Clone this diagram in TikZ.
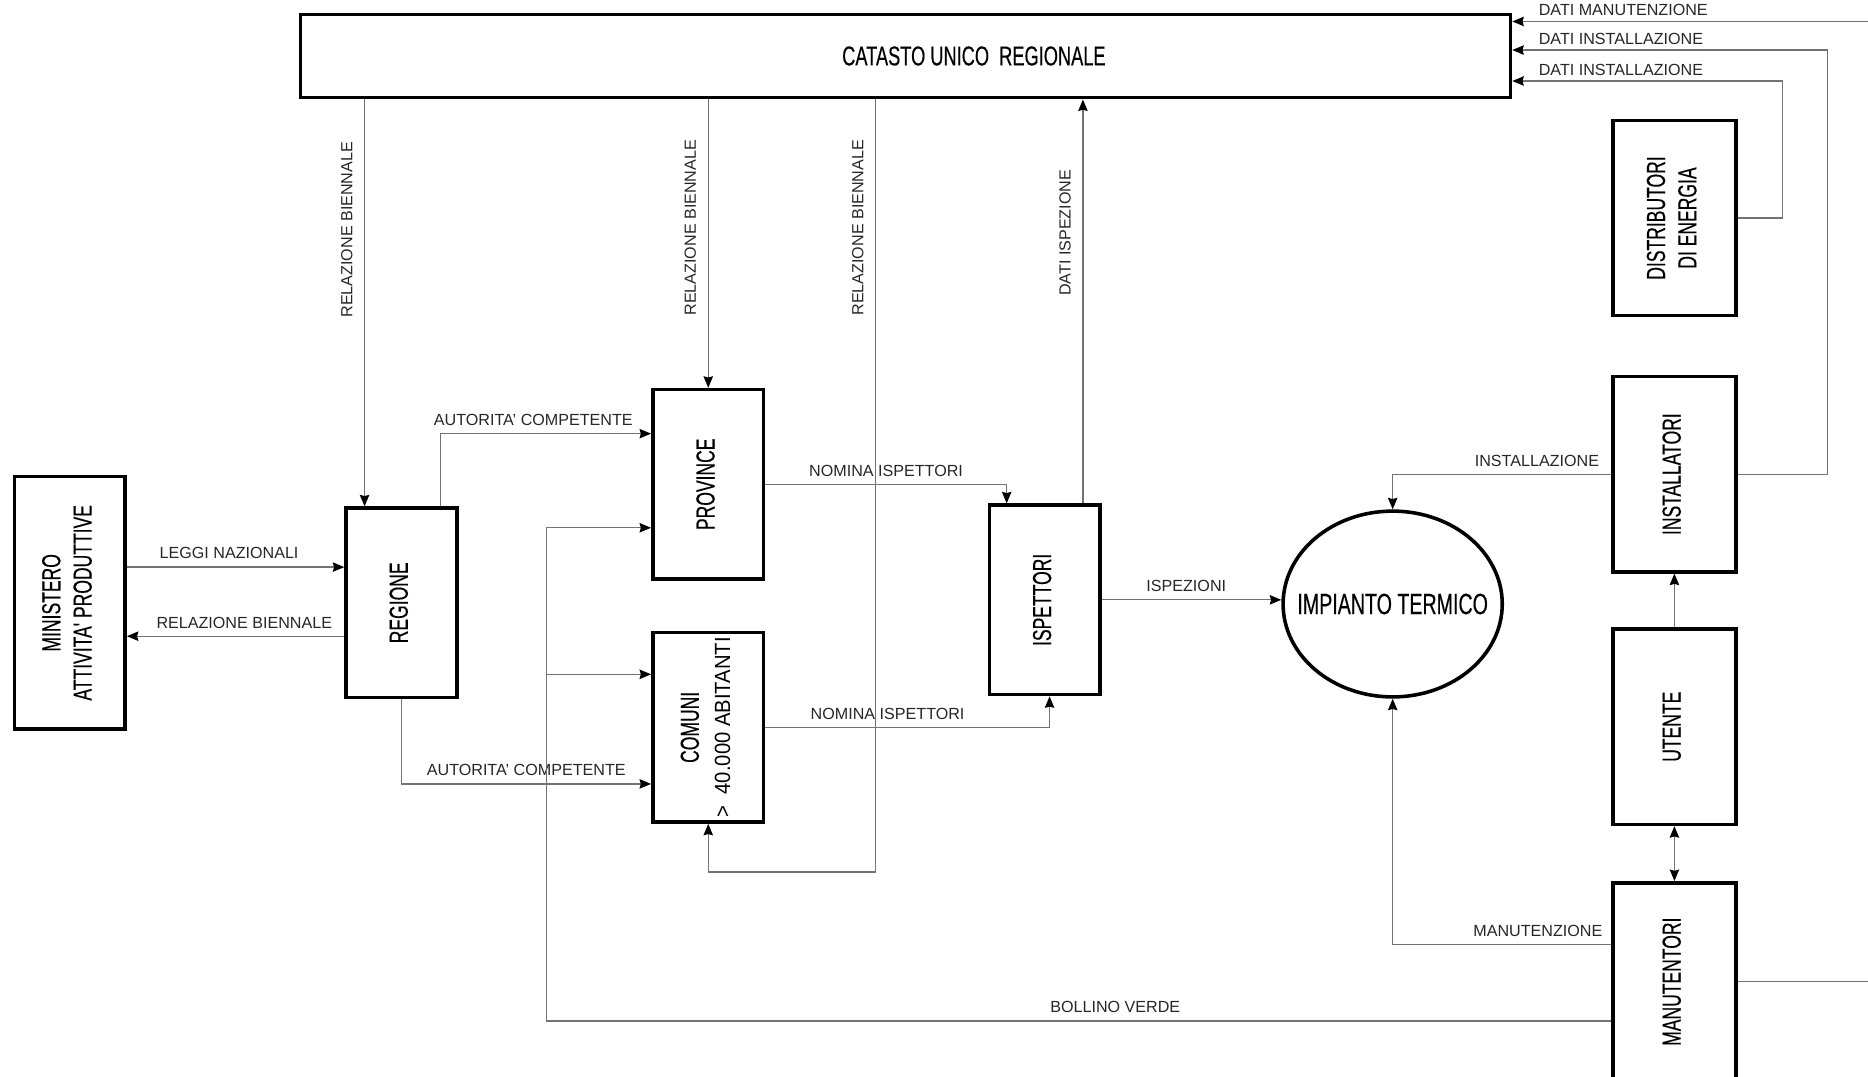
\documentclass[tikz,border=0pt]{standalone}
\usepackage{fontspec}
\usepackage{tikz}
\usetikzlibrary{arrows.meta,shapes.geometric}
\setmainfont{Liberation Sans}
\newfontfamily\boxfont[FakeStretch=0.67,FakeBold=0.3]{Liberation Sans}
\newfontfamily\numfont[FakeStretch=0.92]{Liberation Sans}

\newcommand{\vtesto}[1]{\rotatebox{90}{\begin{tabular}{@{}c@{}}#1\end{tabular}}}

\tikzset{
  blocco/.style={draw, line width=1.7pt, fill=white, minimum width=1.86cm, minimum height=3.18cm,
    inner sep=0pt, font=\boxfont\fontsize{12.5}{15}\selectfont},
  bloccodx/.style={blocco, minimum width=2.06cm, minimum height=3.28cm},
  cerchio/.style={blocco, ellipse, minimum width=3.68cm, minimum height=3.12cm, inner xsep=-0.5cm,
    font=\boxfont\fontsize{14}{16}\selectfont},
  freccia/.style={draw=black!55, line width=0.6pt, ->},
  etichetta/.style={font=\fontsize{7.7}{9}\selectfont, text=black!85, inner sep=1pt},
  etichettadx/.style={etichetta, pos=1, anchor=south west, xshift=0.4cm, yshift=1.5pt}
}

\begin{document}
\begin{tikzpicture}[x=0.02cm, y=-0.02cm, >={Stealth[black, length=5.5pt, width=4.5pt, inset=0.6pt]}]
      \useasboundingbox (0,0) rectangle (1568,904);
      \clip (0,0) rectangle (1568,904);

      %Catasto
      \node[blocco, minimum width=20.32cm, minimum height=1.4cm, font=\boxfont\fontsize{13}{15}\selectfont] (catasto) at (760,47) {\hspace*{2.3cm}CATASTO UNICO\ \ REGIONALE};

      %Enti
      \node[blocco, minimum height=4.24cm] (ministero) at (58.5,506) {\vtesto{MINISTERO\\ATTIVITA' PRODUTTIVE}};
      \node[blocco] (regione) at (337,506) {\vtesto{REGIONE}};
      \node[blocco] (province) at (594.5,406.5) {\vtesto{PROVINCE}};
      \node[blocco] (comuni) at (594.5,610.5) {\vtesto{COMUNI\\{\numfont\fontsize{10.5}{12}\selectfont >\ \ 40.000 ABITANTI}}};
      \node[blocco] (ispettori) at (877,503.5) {\vtesto{ISPETTORI}};

      %Impianto
      \node[cerchio] (impianto) at (1169,507) {IMPIANTO TERMICO};

      %Operatori
      \node[bloccodx] (distributori) at (1405.5,183) {\vtesto{DISTRIBUTORI\\DI ENERGIA}};
      \node[bloccodx] (installatori) at (1405.5,398) {\vtesto{INSTALLATORI}};
      \node[bloccodx] (utente) at (1405.5,610) {\vtesto{UTENTE}};
      \node[bloccodx, minimum height=3.32cm] (manutentori) at (1405.5,824) {\vtesto{MANUTENTORI}};

      \coordinate (bv) at (459,857);
      \coordinate (bvc) at (459,566);

      %Frecce
      \draw[freccia] (ministero.east |- 0,476) -- node[etichetta, above=2.5pt, pos=.47]{LEGGI NAZIONALI} (regione.west |- 0,476);
      \draw[freccia] (regione.west |- 0,534) -- node[etichetta, above=2.5pt, pos=.46]{RELAZIONE BIENNALE} (ministero.east |- 0,534);

      \draw[freccia] (306,0 |- catasto.south) -- node[etichetta, left=4.5pt, pos=.32]{\rotatebox{90}{RELAZIONE BIENNALE}} (306,0 |- regione.north);
      \draw[freccia] (province.north |- catasto.south) -- node[etichetta, left=4.5pt, pos=.445]{\rotatebox{90}{RELAZIONE BIENNALE}} (province.north);
      \draw[freccia] (735,0 |- catasto.south) -- node[etichetta, left=4.5pt, pos=.166]{\rotatebox{90}{RELAZIONE BIENNALE}} (735,732) -| (comuni.south);
      \draw[freccia] (909,0 |- ispettori.north) -- node[etichetta, left=4.5pt, pos=.67]{\rotatebox{90}{DATI ISPEZIONE}} (909,0 |- catasto.south);

      \draw[freccia] (370,0 |- regione.north) |- node[etichetta, above=2.5pt, pos=.72]{AUTORITA' COMPETENTE} (province.west |- 0,364);
      \draw[freccia] (regione.south) |- node[etichetta, above=2.5pt, pos=.75]{AUTORITA' COMPETENTE} (comuni.west |- 0,658);

      \draw[freccia] (province.east) -| node[etichetta, above=2.5pt, pos=.25]{NOMINA ISPETTORI} (845,0 |- ispettori.north);
      \draw[freccia] (comuni.east) -| node[etichetta, above=2.5pt, pos=.215]{NOMINA ISPETTORI} (881,0 |- ispettori.south);
      \draw[freccia] (ispettori.east) -- node[etichetta, above=2.5pt, pos=.47]{ISPEZIONI} (ispettori.east -| impianto.west);

      \draw[freccia] (installatori.west) -| node[etichetta, above=2.5pt, pos=.17]{INSTALLAZIONE} (impianto.north);
      \draw[freccia] (manutentori.west |- 0,793) -| node[etichetta, above=2.5pt, pos=.168]{MANUTENZIONE} (impianto.south);
      \draw[freccia] (manutentori.west |- bv) -- node[etichetta, above=2.5pt, pos=.466]{BOLLINO VERDE} (bv) |- (province.west |- 0,443);
      \draw[freccia] (bvc) -- (comuni.west |- bvc);

      \draw[freccia] (utente.north) -- (installatori.south);
      \draw[freccia, <->] (utente.south) -- (manutentori.north);

      \draw[freccia] (distributori.east) -| (1496,68) -- node[etichettadx]{DATI INSTALLAZIONE} (catasto.east |- 0,68);
      \draw[freccia] (installatori.east) -| (1534,42) -- node[etichettadx]{DATI INSTALLAZIONE} (catasto.east |- 0,42);
      \draw[freccia] (manutentori.east) -- (1590,0 |- manutentori.east) -- (1590,18) -- node[etichettadx]{DATI MANUTENZIONE} (catasto.east |- 0,18);
\end{tikzpicture}
\end{document}
